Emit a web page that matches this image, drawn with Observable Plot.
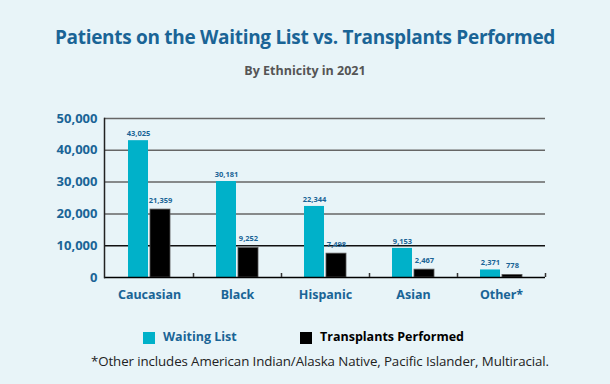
<!DOCTYPE html>
<html>
<head>
<meta charset="utf-8">
<script src="https://cdn.jsdelivr.net/npm/d3@7"></script>
<script src="https://cdn.jsdelivr.net/npm/@observablehq/plot@0.6"></script>
<style>
  html, body { margin: 0; padding: 0; }
  body { width: 610px; height: 384px; background: #e8f4f8; position: relative; overflow: hidden; font-family: "Open Sans", sans-serif; }
  #title { position: absolute; top: 24px; left: 0; width: 610px; text-align: center; font-weight: 700; font-size: 19px; color: #1a6496; letter-spacing: -0.3px; }
  #subtitle { position: absolute; top: 62px; left: 0; width: 610px; text-align: center; font-weight: 700; font-size: 12.5px; color: #555; }
  #chart { position: absolute; top: 100px; left: 0; }
  #legend { position: absolute; top: 329px; left: 0; width: 610px; height: 20px; }
  .sw { position: absolute; top: 3px; width: 12px; height: 12px; }
  .lt { position: absolute; top: -1px; font-weight: 700; font-size: 12.5px; }
  #foot { position: absolute; top: 352px; left: 15px; width: 610px; text-align: center; font-size: 13.3px; color: #222; letter-spacing: -0.1px; white-space: nowrap; }
  #chart svg { background: transparent; overflow: visible; }
</style>
</head>
<body>
<div id="title">Patients on the Waiting List vs. Transplants Performed</div>
<div id="subtitle">By Ethnicity in 2021</div>
<div id="chart"></div>
<div id="legend">
  <div class="sw" style="left:143px;background:#00b1c9"></div>
  <div class="lt" style="left:163px;color:#1a6496">Waiting List</div>
  <div class="sw" style="left:300px;background:#000"></div>
  <div class="lt" style="left:320px;color:#000">Transplants Performed</div>
</div>
<div id="foot">*Other includes American Indian/Alaska Native, Pacific Islander, Multiracial.</div>
<script>
const categories = ["Caucasian", "Black", "Hispanic", "Asian", "Other*"];
const waitingList = [43025, 30181, 22344, 9153, 2371];
const transplants = [21359, 9252, 7498, 2467, 778];
const yTicks = [0, 10000, 20000, 30000, 40000, 50000];

const waitData = categories.map((c, i) => ({category: c, value: waitingList[i]}));
const transData = categories.map((c, i) => ({category: c, value: transplants[i]}));

const blue = "#1a6496";
const fmt = d3.format(",");
const chart = Plot.plot({
  width: 610,
  height: 210,
  marginTop: 18,
  marginBottom: 33,
  marginLeft: 104,
  marginRight: 65,
  style: {background: "transparent", overflow: "visible"},
  x: {domain: categories, padding: 0},
  y: {domain: [0, 50000]},
  marks: [
    Plot.ruleY(yTicks.filter(d => d > 0), {stroke: d => d === 10000 ? "#111" : "#666", strokeWidth: 1.5}),
    Plot.barY(waitData, {x: "category", y: "value", fill: "#00b1c9", insetLeft: 23, insetRight: 45}),
    Plot.barY(transData, {x: "category", y: "value", fill: "#000", stroke: "#555", strokeWidth: 0.8, insetLeft: 45, insetRight: 23}),
    Plot.text(waitData, {x: "category", y: "value", text: d => fmt(d.value), dx: -11, dy: -7, fontSize: 7.5, fontWeight: 700, fill: blue}),
    Plot.text(transData, {x: "category", y: "value", text: d => fmt(d.value), dx: 11, dy: -9, fontSize: 7.5, fontWeight: 700, fill: blue}),
    Plot.ruleY([0], {stroke: "#000", strokeWidth: 1.5}),
    Plot.ruleX(categories, {x: d => d, y1: 0, y2: 0, dx: 44, insetTop: -4, stroke: "#333", strokeWidth: 1.5}),
    Plot.axisY({ticks: yTicks, tickFormat: fmt, tickSize: 0, tickPadding: 7, fontSize: 13, fontWeight: 700, fill: blue, label: null}),
    Plot.axisX({tickSize: 0, tickPadding: 13, fontSize: 12.5, fontWeight: 700, fill: blue, label: null}),
    Plot.frame({anchor: "left", stroke: "#222", strokeWidth: 1.5})
  ]
});
document.getElementById("chart").appendChild(chart);
</script>
</body>
</html>
